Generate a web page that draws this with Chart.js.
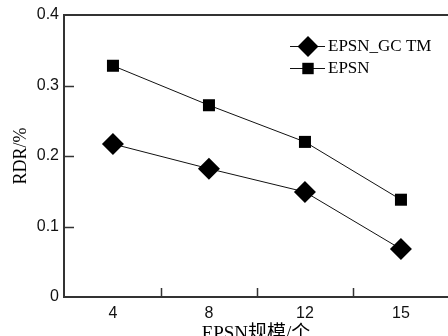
<!DOCTYPE html>
<html>
<head>
<meta charset="utf-8">
<script src="https://cdn.jsdelivr.net/npm/chart.js@4.4.0/dist/chart.umd.min.js"></script>
<style>
  html, body { margin: 0; padding: 0; background: #fff; overflow: hidden; }
</style>
</head>
<body>
<canvas id="mycanvas" width="448" height="336"></canvas>
<script>
// data
var scales_n = ["4", "8", "12", "15"];
var rdr_gctm = [0.217, 0.182, 0.149, 0.068];
var rdr_epsn = [0.328, 0.272, 0.220, 0.138];
var y_ticks = [0, 0.1, 0.2, 0.3, 0.4];

var serif = "'Liberation Serif', 'Times New Roman', 'Noto Sans CJK SC', serif";
var sans = "'Liberation Sans', Arial, sans-serif";
var ink = "#111";

function toPoints(vals) {
	return vals.map(function(v, i) { return { x: i, y: v }; });
}

// frame, inward ticks and legend
var framePlugin = {
	id: "frame",
	afterDraw: function(chart) {
		var ctx = chart.ctx;
		var a = chart.chartArea;
		var x = chart.scales.x, y = chart.scales.y;
		ctx.save();
		ctx.strokeStyle = "#333";
		ctx.lineWidth = 2;
		ctx.beginPath();
		ctx.moveTo(a.left - 1, a.top);
		ctx.lineTo(a.right, a.top);
		ctx.stroke();

		ctx.lineWidth = 1.5;
		ctx.beginPath();
		for (var i = 1; i < y_ticks.length - 1; i++) {
			var py = Math.round(y.getPixelForValue(y_ticks[i])) + 0.5;
			ctx.moveTo(a.left, py);
			ctx.lineTo(a.left + 10, py);
		}
		for (var j = 0; j < scales_n.length - 1; j++) {
			var px = Math.round(x.getPixelForValue(j + 0.5)) + 0.5;
			ctx.moveTo(px, a.bottom);
			ctx.lineTo(px, a.bottom - 9);
		}
		ctx.stroke();

		// legend
		var lx = 290, ly = 46;
		chart.data.datasets.forEach(function(ds, k) {
			var yy = ly + k * 22;
			ctx.strokeStyle = ink;
			ctx.lineWidth = 1;
			ctx.beginPath();
			ctx.moveTo(lx, yy + 0.5);
			ctx.lineTo(lx + 35, yy + 0.5);
			ctx.stroke();
			ctx.fillStyle = "#000";
			Chart.helpers.drawPoint(ctx, {
				pointStyle: ds.pointStyle,
				radius: ds.pointRadius * 0.95,
				borderWidth: 0
			}, lx + 18, yy + 0.5);
			ctx.fillStyle = "#000";
			ctx.font = "17px " + serif;
			ctx.textBaseline = "middle";
			ctx.textAlign = "left";
			ctx.fillText(ds.label, lx + 38, yy + 1);
		});
		ctx.restore();
	}
};

var chartdata = {
	datasets: [
		{
			label: "EPSN_GC TM",
			data: toPoints(rdr_gctm),
			borderColor: ink,
			borderWidth: 1,
			backgroundColor: "#000",
			pointBackgroundColor: "#000",
			pointBorderColor: "#000",
			pointStyle: "rectRot",
			pointRadius: 11,
			pointBorderWidth: 0,
			lineTension: 0,
			fill: false
		},
		{
			label: "EPSN",
			data: toPoints(rdr_epsn),
			borderColor: ink,
			borderWidth: 1,
			backgroundColor: "#000",
			pointBackgroundColor: "#000",
			pointBorderColor: "#000",
			pointStyle: "rect",
			pointRadius: 8.5,
			pointBorderWidth: 0,
			lineTension: 0,
			fill: false
		}
	]
};

var ctx = document.getElementById("mycanvas");

var LineGraph = new Chart(ctx, {
	type: "line",
	data: chartdata,
	options: {
		responsive: false,
		animation: false,
		layout: { autoPadding: false, padding: { top: 15, left: 0, right: 0, bottom: 0 } },
		plugins: {
			legend: { display: false },
			tooltip: { enabled: false }
		},
		scales: {
			x: {
				type: "linear",
				min: -0.51,
				max: 3.49,
				afterFit: function(s) { s.height = 39; },
				afterBuildTicks: function(s) {
					s.ticks = scales_n.map(function(lbl, i) { return { value: i }; });
				},
				grid: { display: true, drawOnChartArea: false, drawTicks: false, color: "rgba(0,0,0,0)" },
				border: { display: true, color: "#333", width: 2 },
				ticks: {
					color: ink,
					padding: 7,
					font: { family: sans, size: 16 },
					callback: function(v) { return scales_n[v]; }
				},
				title: {
					display: true,
					text: "EPSN规模/个",
					color: "#000",
					font: { family: serif, size: 19 },
					padding: { top: 0, bottom: -9 }
				}
			},
			y: {
				min: 0,
				max: 0.4,
				afterFit: function(s) { s.width = 64; },
				afterBuildTicks: function(s) {
					s.ticks = y_ticks.map(function(v) { return { value: v }; });
				},
				grid: { display: true, drawOnChartArea: false, drawTicks: false, color: "rgba(0,0,0,0)" },
				border: { display: true, color: "#333", width: 2 },
				ticks: {
					color: ink,
					padding: 5,
					font: { family: sans, size: 16 },
					callback: function(v) { return v === 0 ? "0" : v.toFixed(1); }
				},
				title: {
					display: true,
					text: "RDR/%",
					color: "#000",
					font: { family: serif, size: 18 },
					padding: { top: 10, bottom: 0 }
				}
			}
		}
	},
	plugins: [framePlugin]
});
</script>
</body>
</html>
